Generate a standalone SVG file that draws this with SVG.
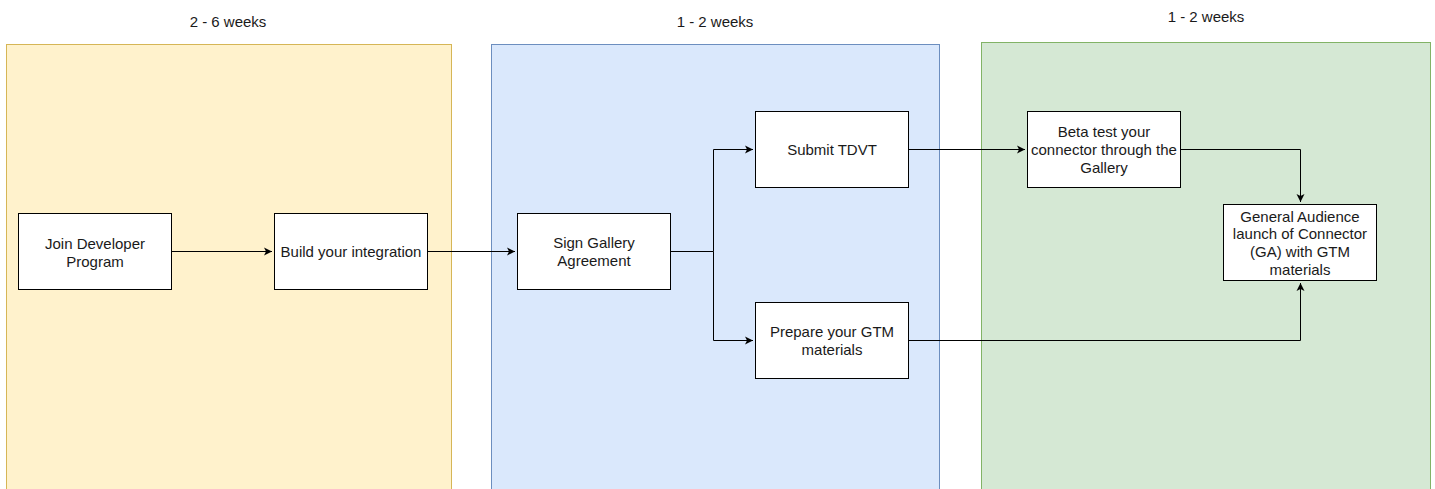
<svg xmlns="http://www.w3.org/2000/svg" width="1435" height="489" viewBox="0 0 1435 489">
<style>
text{font-family:"Liberation Sans",Arial,sans-serif;font-size:15px;fill:#1a1a1a;text-anchor:middle}
.node{fill:#ffffff;stroke:#000000;stroke-width:1}
.conn{fill:none;stroke:#000000;stroke-width:1}
</style>
<defs>
<marker id="arr" markerWidth="10" markerHeight="10" refX="8" refY="5" orient="auto" markerUnits="userSpaceOnUse">
<path d="M0,1 L8,5 L0,9 L2,5 Z" fill="#000"/>
</marker>
</defs>
<rect width="1435" height="489" fill="#ffffff"/>
<g id="phase1">
<rect x="6.5" y="44.5" width="445" height="460" fill="#fff2cc" stroke="#d6b656"/>
<text x="228" y="27">2 - 6 weeks</text>
</g>
<g id="phase2">
<rect x="491.5" y="44.5" width="448" height="460" fill="#dae8fc" stroke="#6c8ebf"/>
<text x="715" y="27">1 - 2 weeks</text>
</g>
<g id="phase3">
<rect x="981.5" y="42.5" width="449" height="460" fill="#d5e8d4" stroke="#82b366"/>
<text x="1206" y="22">1 - 2 weeks</text>
</g>
<g id="connectors">
<path class="conn" d="M172,251.5 H272" marker-end="url(#arr)"/>
<path class="conn" d="M427,251.5 H515" marker-end="url(#arr)"/>
<path class="conn" d="M671,251.5 H713.5 V149.5 H753" marker-end="url(#arr)"/>
<path class="conn" d="M713.5,251.5 V340.5 H753" marker-end="url(#arr)"/>
<path class="conn" d="M909,149.5 H1025" marker-end="url(#arr)"/>
<path class="conn" d="M1181,149.5 H1300.5 V202" marker-end="url(#arr)"/>
<path class="conn" d="M909,340.5 H1300.5 V283" marker-end="url(#arr)"/>
</g>
<g id="join">
<rect class="node" x="18.5" y="213.5" width="153" height="76"/>
<text x="95" y="249">Join Developer</text>
<text x="95" y="267">Program</text>
</g>
<g id="build">
<rect class="node" x="274.5" y="213.5" width="153" height="76"/>
<text x="351" y="257">Build your integration</text>
</g>
<g id="sign">
<rect class="node" x="517.5" y="213.5" width="153" height="76"/>
<text x="594" y="248">Sign Gallery</text>
<text x="594" y="266">Agreement</text>
</g>
<g id="tdvt">
<rect class="node" x="755.5" y="111.5" width="153" height="76"/>
<text x="832" y="155">Submit TDVT</text>
</g>
<g id="gtm">
<rect class="node" x="755.5" y="302.5" width="153" height="76"/>
<text x="832" y="337">Prepare your GTM</text>
<text x="832" y="355">materials</text>
</g>
<g id="beta">
<rect class="node" x="1027.5" y="111.5" width="153" height="76"/>
<text x="1104" y="137">Beta test your</text>
<text x="1104" y="155">connector through the</text>
<text x="1104" y="173">Gallery</text>
</g>
<g id="ga">
<rect class="node" x="1223.5" y="204.5" width="153" height="76"/>
<text x="1300" y="222">General Audience</text>
<text x="1300" y="239">launch of Connector</text>
<text x="1300" y="257">(GA) with GTM</text>
<text x="1300" y="275">materials</text>
</g>
</svg>
